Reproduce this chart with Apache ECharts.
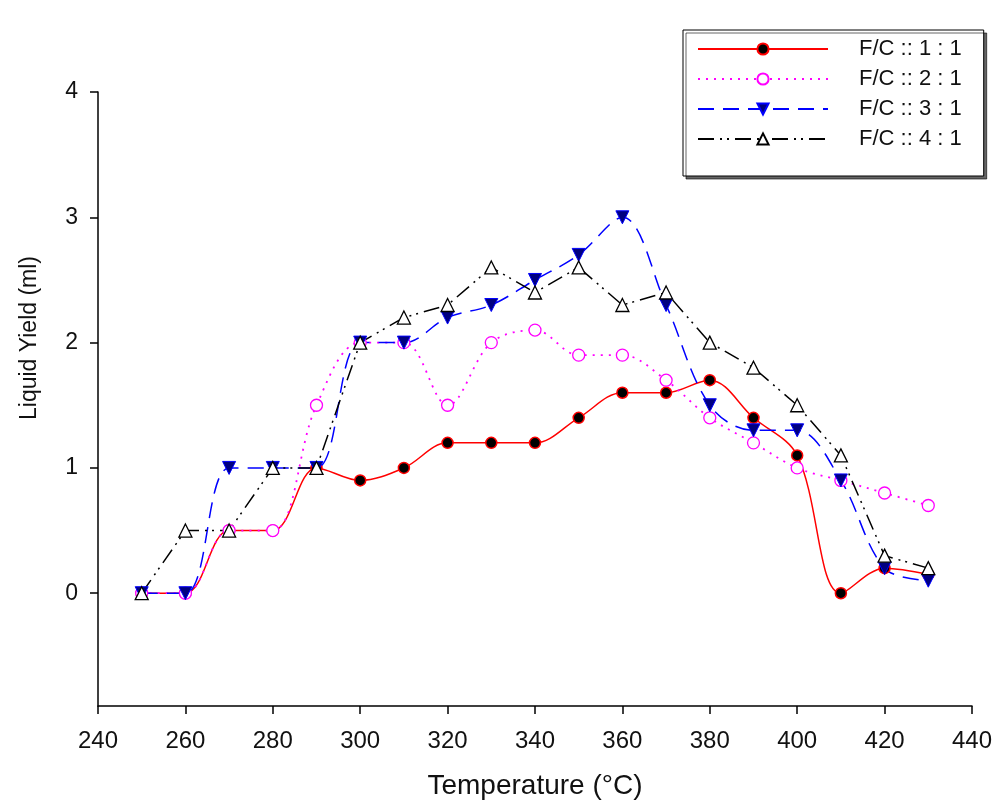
<!DOCTYPE html>
<html>
<head>
<meta charset="utf-8">
<script src="https://cdn.jsdelivr.net/npm/echarts@6/dist/echarts.min.js"></script>
<style>
  html, body { margin: 0; padding: 0; background: #fff; }
  #chart { width: 995px; height: 805px; }
</style>
</head>
<body>
<div id="chart"></div>
<script>
var mychart = echarts.init(document.getElementById('chart'));

// temperatures (°C)
const temps = [250, 260, 270, 280, 290, 300, 310, 320, 330, 340, 350, 360, 370, 380, 390, 400, 410, 420, 430];
const names = ['F/C :: 1 : 1', 'F/C :: 2 : 1', 'F/C :: 3 : 1', 'F/C :: 4 : 1'];
// liquid yield (ml)
const fc1 = [0, 0, 0.5, 0.5, 1.0, 0.9, 1.0, 1.2, 1.2, 1.2, 1.4, 1.6, 1.6, 1.7, 1.4, 1.1, 0.0, 0.2, 0.15];
const fc2 = [0, 0, 0.5, 0.5, 1.5, 2.0, 2.0, 1.5, 2.0, 2.1, 1.9, 1.9, 1.7, 1.4, 1.2, 1.0, 0.9, 0.8, 0.7];
const fc3 = [0, 0, 1.0, 1.0, 1.0, 2.0, 2.0, 2.2, 2.3, 2.5, 2.7, 3.0, 2.3, 1.5, 1.3, 1.3, 0.9, 0.2, 0.1];
const fc4 = [0, 0.5, 0.5, 1.0, 1.0, 2.0, 2.2, 2.3, 2.6, 2.4, 2.6, 2.3, 2.4, 2.0, 1.8, 1.5, 1.1, 0.3, 0.2];
const yTicks = [0, 1, 2, 3, 4];

function pairs(vals) {
    return temps.map(function (t, i) { return [t, vals[i]]; });
}

const font = 'Liberation Sans, Arial, sans-serif';

option = {
    backgroundColor: '#ffffff',
    animation: false,
    grid: {
        left: 98,
        right: 20,
        top: 92,
        bottom: 98
    },
    legend: {
        orient: 'vertical',
        left: 683,
        top: 30,
        padding: [8, 22, 26, 14],
        itemWidth: 130,
        itemHeight: 14,
        itemGap: 8,
        borderColor: '#000',
        borderWidth: 1,
        backgroundColor: '#fff',
        shadowColor: 'rgba(0,0,0,0.6)',
        shadowOffsetX: 3,
        shadowOffsetY: 3,
        shadowBlur: 0,
        textStyle: {
            fontFamily: font,
            fontSize: 22,
            color: '#111',
            padding: [0, 0, 0, 26]
        },
        data: names
    },
    graphic: [{
        type: 'text',
        x: 30,
        y: 338,
        rotation: Math.PI / 2,
        style: {
            text: 'Liquid Yield (ml)',
            fontFamily: font,
            fontSize: 23,
            fill: '#111',
            textAlign: 'center',
            textVerticalAlign: 'middle'
        }
    }],
    xAxis: {
        type: 'value',
        min: 240,
        max: 440,
        interval: 20,
        name: 'Temperature (°C)',
        nameLocation: 'middle',
        nameGap: 66,
        nameTextStyle: { fontFamily: font, fontSize: 28, color: '#111' },
        axisLine: { show: true, onZero: false, lineStyle: { color: '#000', width: 1.5 } },
        axisTick: { show: true, length: 8, lineStyle: { color: '#000', width: 1.5 } },
        axisLabel: { margin: 23, fontFamily: font, fontSize: 24, color: '#111' },
        splitLine: { show: false }
    },
    yAxis: {
        type: 'value',
        min: -0.9,
        max: 4,
        axisLine: { show: true, onZero: false, lineStyle: { color: '#000', width: 1.5 } },
        axisTick: { show: true, length: 8, customValues: yTicks, lineStyle: { color: '#000', width: 1.5 } },
        axisLabel: { margin: 20, customValues: yTicks, fontFamily: font, fontSize: 23, color: '#111' },
        splitLine: { show: false }
    },
    series: [
        {
            name: names[0],
            type: 'line',
            data: pairs(fc1),
            smooth: 0.35,
            symbol: 'circle',
            symbolSize: 11,
            lineStyle: { color: '#ff0000', width: 1.5, type: 'solid' },
            itemStyle: { color: '#000', borderColor: '#ff0000', borderWidth: 1.5 }
        },
        {
            name: names[1],
            type: 'line',
            data: pairs(fc2),
            smooth: 0.35,
            symbol: 'circle',
            symbolSize: 12,
            lineStyle: { color: '#ff00ff', width: 1.8, type: [2, 6] },
            itemStyle: { color: '#fff', borderColor: '#ff00ff', borderWidth: 1.3 }
        },
        {
            name: names[2],
            type: 'line',
            data: pairs(fc3),
            smooth: 0.35,
            symbol: 'triangle',
            symbolRotate: 180,
            symbolSize: 13,
            lineStyle: { color: '#0000ff', width: 1.5, type: [16, 9] },
            itemStyle: { color: '#000080', borderColor: '#0000ff', borderWidth: 1 }
        },
        {
            name: names[3],
            type: 'line',
            data: pairs(fc4),
            smooth: false,
            symbol: 'triangle',
            symbolSize: 13,
            lineStyle: { color: '#000', width: 1.5, type: [16, 6, 2, 5, 2, 6] },
            itemStyle: { color: '#fff', borderColor: '#000', borderWidth: 1.3 }
        }
    ]
};
mychart.setOption(option, true);
</script>
</body>
</html>
